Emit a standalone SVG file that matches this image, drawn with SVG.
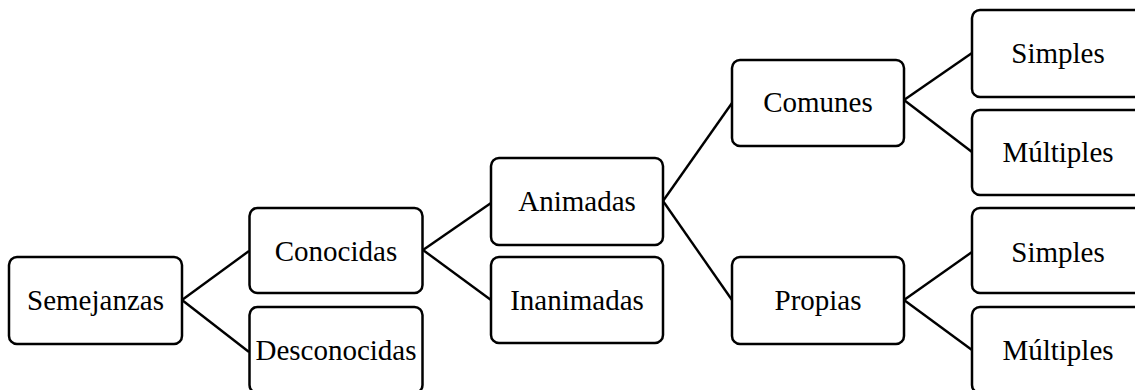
<svg xmlns="http://www.w3.org/2000/svg" width="1135" height="390" viewBox="0 0 1135 390">
  <style>
    .box { fill: #ffffff; stroke: #000000; stroke-width: 2.5; }
    .lbl { font-family: "Liberation Serif", "Times New Roman", serif; font-size: 29px; fill: #000000; text-anchor: middle; }
    .conn line { stroke: #000000; stroke-width: 2.4; }
  </style>
  <rect width="1135" height="390" fill="#ffffff"/>

  <g class="conn" id="connectors">
    <line x1="182" y1="300" x2="249" y2="251"/>
    <line x1="182" y1="300" x2="249" y2="352"/>
    <line x1="423" y1="250" x2="491" y2="203"/>
    <line x1="423" y1="250" x2="491" y2="300"/>
    <line x1="663" y1="201" x2="732" y2="103"/>
    <line x1="663" y1="201" x2="732" y2="300"/>
    <line x1="904" y1="100" x2="972" y2="53"/>
    <line x1="904" y1="100" x2="972" y2="152"/>
    <line x1="904" y1="300" x2="972" y2="252"/>
    <line x1="904" y1="300" x2="972" y2="350"/>
  </g>

  <g id="semejanzas">
    <rect class="box" x="9" y="257" width="173" height="87" rx="8"/>
    <text class="lbl" x="95.5" y="310">Semejanzas</text>
  </g>
  <g id="conocidas">
    <rect class="box" x="249.5" y="208" width="173" height="85" rx="8"/>
    <text class="lbl" x="336" y="261">Conocidas</text>
  </g>
  <g id="desconocidas">
    <rect class="box" x="249.5" y="307" width="173" height="86" rx="8"/>
    <text class="lbl" x="336" y="360">Desconocidas</text>
  </g>
  <g id="animadas">
    <rect class="box" x="491" y="158" width="172" height="87" rx="8"/>
    <text class="lbl" x="577" y="211">Animadas</text>
  </g>
  <g id="inanimadas">
    <rect class="box" x="491" y="257" width="172" height="86" rx="8"/>
    <text class="lbl" x="577" y="310">Inanimadas</text>
  </g>
  <g id="comunes">
    <rect class="box" x="732" y="60" width="172" height="86" rx="8"/>
    <text class="lbl" x="818" y="112">Comunes</text>
  </g>
  <g id="propias">
    <rect class="box" x="732" y="257" width="172" height="87" rx="8"/>
    <text class="lbl" x="818" y="310">Propias</text>
  </g>
  <g id="comunes-simples">
    <rect class="box" x="972" y="10" width="172" height="87" rx="8"/>
    <text class="lbl" x="1058" y="63">Simples</text>
  </g>
  <g id="comunes-multiples">
    <rect class="box" x="972" y="110" width="172" height="85" rx="8"/>
    <text class="lbl" x="1058" y="162">Múltiples</text>
  </g>
  <g id="propias-simples">
    <rect class="box" x="972" y="208" width="172" height="85" rx="8"/>
    <text class="lbl" x="1058" y="262">Simples</text>
  </g>
  <g id="propias-multiples">
    <rect class="box" x="972" y="307" width="172" height="86" rx="8"/>
    <text class="lbl" x="1058" y="360">Múltiples</text>
  </g>
</svg>
